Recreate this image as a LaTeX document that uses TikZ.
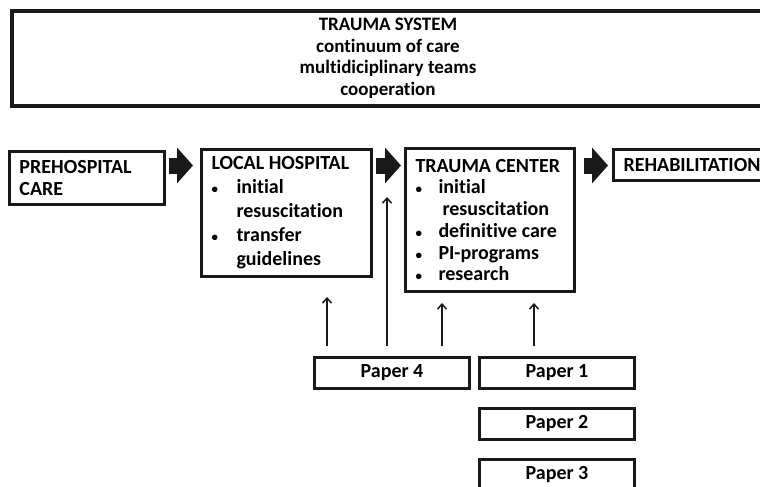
\documentclass[tikz,border=0pt]{standalone}
\usepackage{fontspec}
\setmainfont{Carlito}[Ligatures=NoCommon]
\usetikzlibrary{positioning}
\usetikzlibrary{arrows.meta}

\newcommand{\dotmark}{{\fontsize{13pt}{13pt}\selectfont\textbullet}}
\newcommand{\itm}[1]{\makebox[25pt][l]{\dotmark}#1}
\newcommand{\cont}[1]{\hspace*{25pt}#1}

\tikzset{
  sysbox/.style={draw=black!90, line width=4pt, anchor=north west, align=flush center,
    minimum width=752pt, minimum height=95pt, inner sep=0pt,
    font=\bfseries\fontsize{19pt}{21.5pt}\selectfont},
  stagebox/.style={draw=black!90, line width=3pt, anchor=north west, align=flush left,
    inner xsep=10pt, inner ysep=0pt, font=\bfseries\fontsize{20pt}{22pt}\selectfont},
  paperbox/.style={draw=black!90, line width=3pt, anchor=north west, align=flush center,
    minimum width=155pt, minimum height=31pt, inner sep=0pt,
    font=\bfseries\fontsize{20pt}{22pt}\selectfont},
  flow/.style={draw=black!90, line width=16pt, -{Triangle[length=16pt,width=35pt]}},
  uparrow/.style={draw=black!90, line width=1.5pt, -{Straight Barb[length=5pt,width=9pt]}}
}

\begin{document}
\begin{tikzpicture}[x=1pt,y=-1pt]
				\useasboundingbox (0,0) rectangle (760,487);
				%Nodes
				\node[sysbox] (system) at (10,9) {TRAUMA SYSTEM\\continuum of care\\multidiciplinary teams\\cooperation};
				\node[stagebox, minimum width=155pt, text width=135pt, minimum height=53pt] (pre) at (8,150) {PREHOSPITAL\\CARE};
				\node[stagebox, minimum width=170pt, text width=150pt, minimum height=127pt,
					font=\bfseries\fontsize{20pt}{24pt}\selectfont] (local) at (200,148)
					{LOCAL HOSPITAL\\\itm{initial}\\\cont{resuscitation}\\\itm{transfer}\\\cont{guidelines}};
				\node[stagebox, minimum width=169pt, text width=149pt, minimum height=143pt,
					font=\bfseries\fontsize{20pt}{21.7pt}\selectfont] (trauma) at (404,147)
					{TRAUMA CENTER\\\makebox[23pt][l]{\dotmark}initial\\\hspace*{27pt}resuscitation\\\makebox[23pt][l]{\dotmark}definitive care\\\makebox[23pt][l]{\dotmark}PI-programs\\\makebox[23pt][l]{\dotmark}research};
				\node[stagebox, minimum width=150pt, text width=130pt, minimum height=31pt] (rehab) at (612,148) {REHABILITATION};
				
				\node[paperbox] (p4) at (313,356) {Paper 4};
				\node[paperbox] (p1) at (478,356) {Paper 1};
				\node[paperbox] (p2) at (478,407) {Paper 2};
				\node[paperbox] (p3) at (478,458) {Paper 3};
				
				\coordinate (row) at (0,165.5);
				\coordinate (c1) at (327,0);
				\coordinate (c2) at (387,197);
				\coordinate (c3) at (442,0);
				\coordinate (c4) at (534,0);
				
				%Block arrows
				\draw[flow] ([xshift=3pt]pre.east |- row) -- ([xshift=-7pt]local.west |- row);
				\draw[flow] ([xshift=3pt]local.east |- row) -- ([xshift=-3pt]trauma.west |- row);
				\draw[flow] ([xshift=8pt]trauma.east |- row) -- ([xshift=-4pt]rehab.west |- row);
				
				%Papers
				\draw[uparrow] ([yshift=10pt]p4.north -| c1) -- ([yshift=-19pt]local.south -| c1);
				\draw[uparrow] ([yshift=10pt]p4.north -| c2) -- (c2);
				\draw[uparrow] ([yshift=10pt]p4.north -| c3) -- ([yshift=-10pt]trauma.south -| c3);
				\draw[uparrow] ([yshift=10pt]p1.north -| c4) -- ([yshift=-10pt]trauma.south -| c4);
		\end{tikzpicture}
\end{document}
